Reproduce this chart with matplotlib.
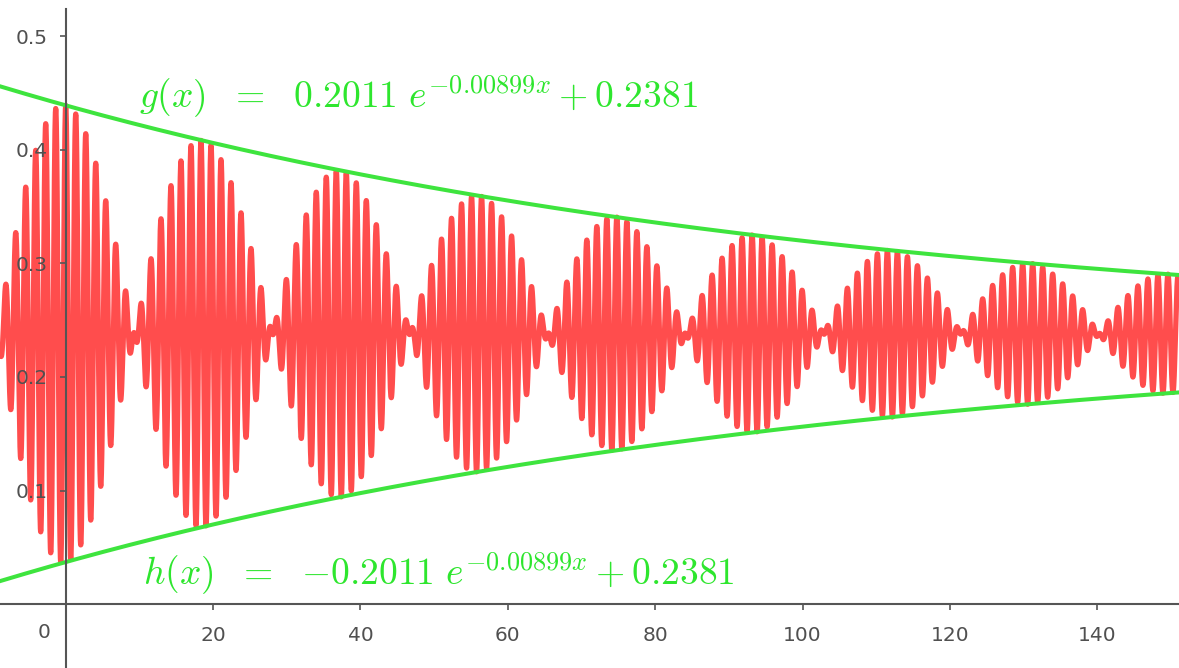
import numpy as np
import matplotlib
matplotlib.use('Agg')
import matplotlib.pyplot as plt

# --- parametros ---
amp = 0.2011          # amplitud de la envolvente
decay = 0.00899       # constante de decaimiento
offset = 0.2381       # nivel medio
beat_period = 18.7    # periodo de los batidos (entre lobulos)
carrier_period = 1.36 # periodo de la portadora

x_range = (-8.92, 151.1)
y_range = (-0.0563, 0.532)
x_ticks = [0, 20, 40, 60, 80, 100, 120, 140]
y_ticks = [0.1, 0.2, 0.3, 0.4, 0.5]

plt.rcParams['mathtext.fontset'] = 'cm'

fig = plt.figure(figsize=(11.79, 6.68), dpi=100)
ax = fig.add_axes([0, 0, 1, 1])
ax.set_axisbelow(False)

x = np.linspace(x_range[0], x_range[1], 40000)
env = amp * np.exp(-decay * x)
g = env + offset
h = -env + offset
signal = offset + env * np.cos(np.pi * x / beat_period) * np.cos(2 * np.pi * x / carrier_period)

ax.plot(x, signal, color='#ff4d4d', lw=3.8, solid_joinstyle='round', solid_capstyle='round')
ax.plot(x, g, color='#3ee43e', lw=2.9)
ax.plot(x, h, color='#3ee43e', lw=2.9)

ax.set_xlim(*x_range)
ax.set_ylim(*y_range)

# ejes estilo GeoGebra
for s in ['top', 'right']:
    ax.spines[s].set_visible(False)
ax.spines['left'].set_position(('data', 0))
ax.spines['bottom'].set_position(('data', 0))
ax.spines['left'].set_bounds(y_range[0], 0.524)
for s in ['left', 'bottom']:
    ax.spines[s].set_color('#555555')
    ax.spines[s].set_linewidth(1.5)
    ax.spines[s].set_zorder(5)

ax.set_xticks(x_ticks)
ax.set_xticklabels(['' if t == 0 else str(t) for t in x_ticks])
ax.set_yticks(y_ticks)
ax.set_yticklabels([f'{t:.1f}' for t in y_ticks])
ax.tick_params(direction='out', length=4, width=1.2, color='#555555',
               labelcolor='#505050', labelsize=14.5)
ax.tick_params(axis='x', pad=12)
ax.tick_params(axis='y', pad=9)
ax.text(-3.0, -0.017, '0', ha='center', va='top', fontsize=14.5, color='#505050')

# etiquetas de las envolventes
ax.text(10.0, 0.437, r'$g(x)\ \ =\ \ 0.2011\ e^{-0.00899x} + 0.2381$',
        fontsize=27, color='#2ee62e', ha='left', va='baseline')
ax.text(10.5, 0.0165, r'$h(x)\ \ =\ \ {-}0.2011\ e^{-0.00899x} + 0.2381$',
        fontsize=27, color='#2ee62e', ha='left', va='baseline')

plt.savefig('out.png', dpi=100)
plt.close()
